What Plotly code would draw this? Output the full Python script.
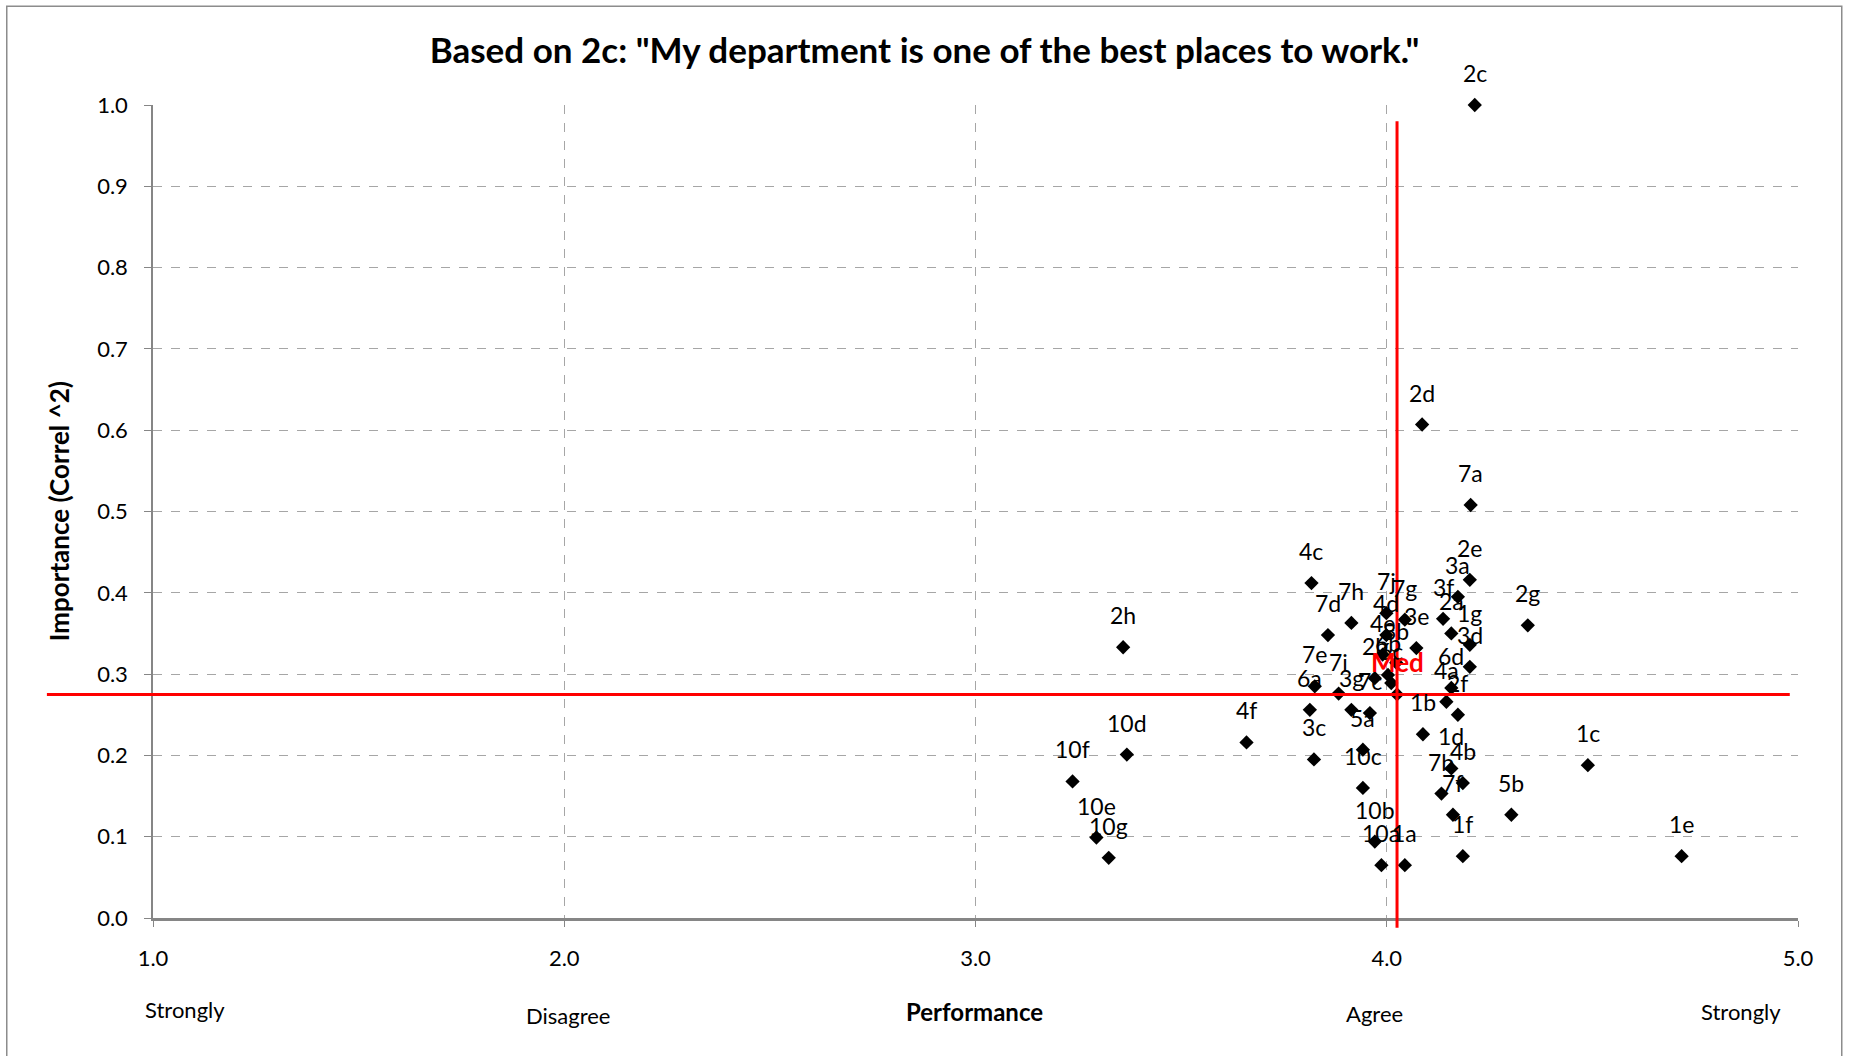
import plotly.graph_objects as go

# ---------------- data ----------------
labels = ["2c", "2d", "7a", "2e", "3a", "3f", "2a", "1g", "3d", "6d", "4a", "2f",
          "1b", "1d", "4b", "7b", "7f", "1f", "5b", "1c", "1e", "2g", "4c", "7h",
          "7d", "7j", "7g", "4d", "3e", "4e", "3b", "2b", "6b", "6c", "7e", "6a",
          "7i", "3g", "7c", "5a", "3c", "10c", "10b", "10a", "1a", "2h", "10d",
          "4f", "10f", "10e", "10g"]
performance = [4.214, 4.086, 4.204, 4.202, 4.173, 4.137, 4.157, 4.202, 4.202, 4.157, 4.145, 4.173,
               4.088, 4.157, 4.185, 4.133, 4.161, 4.185, 4.303, 4.489, 4.717, 4.343, 3.817, 3.914,
               3.857, 3.999, 4.044, 3.999, 4.072, 3.990, 4.023, 3.971, 4.003, 4.011, 3.825, 3.813,
               3.883, 3.914, 3.959, 3.942, 3.823, 3.942, 3.971, 3.987, 4.044, 3.359, 3.368,
               3.659, 3.236, 3.294, 3.324]
importance = [1.000, 0.607, 0.508, 0.416, 0.395, 0.368, 0.350, 0.336, 0.309, 0.283, 0.266, 0.250,
              0.226, 0.184, 0.166, 0.153, 0.127, 0.076, 0.127, 0.188, 0.076, 0.360, 0.412, 0.363,
              0.348, 0.375, 0.367, 0.348, 0.332, 0.324, 0.314, 0.295, 0.299, 0.289, 0.285, 0.256,
              0.276, 0.256, 0.252, 0.207, 0.195, 0.160, 0.094, 0.065, 0.065, 0.333, 0.201,
              0.216, 0.168, 0.099, 0.074]

med_label = "Med"
med_perf = 4.025
med_imp = 0.275
med_hline_x = [0.742, 4.98]     # extent of the horizontal median bar (performance)
med_vline_y = [-0.012, 0.98]    # extent of the vertical median bar (importance)

x_range = [1.0, 5.0]
y_range = [0.0, 1.0]
x_ticks = [1.0, 2.0, 3.0, 4.0, 5.0]
y_ticks = [0.0, 0.1, 0.2, 0.3, 0.4, 0.5, 0.6, 0.7, 0.8, 0.9, 1.0]

scale_labels = ["Strongly", "Disagree", "<b>Performance</b>", "Agree", "Strongly"]
scale_label_x = [1.077, 2.009, 2.998, 3.971, 4.862]
scale_label_y = [-0.112, -0.120, -0.1155, -0.117, -0.1155]
scale_label_size = [22, 22, 24, 22, 22]

title_text = "<b>Based on 2c: \"My department is one of the best places to work.\"</b>"
y_title = "<b>Importance (Correl ^2)</b>"

FONT = "Lato"
LABEL_SHIFT = 32  # px above the marker centre

def xp(v):
    return (v - x_range[0]) / (x_range[1] - x_range[0])

def yp(v):
    return (v - y_range[0]) / (y_range[1] - y_range[0])

fig = go.Figure()

fig.add_trace(go.Scatter(
    x=performance, y=importance, mode="markers", text=labels,
    marker=dict(symbol="diamond", size=11, color="#000000"),
    cliponaxis=False, showlegend=False, hoverinfo="x+y+text",
))

fig.add_trace(go.Scatter(
    x=[med_perf], y=[med_imp], mode="markers", text=[med_label],
    marker=dict(symbol="diamond", size=11, color="#000000"),
    cliponaxis=False, showlegend=False,
))

shapes = [
    dict(type="line", xref="paper", yref="paper",
         x0=xp(med_hline_x[0]), x1=xp(med_hline_x[1]), y0=yp(med_imp), y1=yp(med_imp),
         line=dict(color="#ff0000", width=3), layer="above"),
    dict(type="line", xref="paper", yref="paper",
         x0=xp(med_perf), x1=xp(med_perf), y0=yp(med_vline_y[0]), y1=yp(med_vline_y[1]),
         line=dict(color="#ff0000", width=3), layer="above"),
    # outer chart border
    dict(type="rect", xref="paper", yref="paper",
         x0=-0.0889, x1=1.0266, y0=-0.175, y1=1.1216,
         line=dict(color="#8c8c8c", width=1.5), fillcolor="rgba(0,0,0,0)", layer="below"),
]

annotations = []
# point labels
for lab, xv, yv in zip(labels, performance, importance):
    annotations.append(dict(text=lab, x=xv, y=yv, xref="x", yref="y", showarrow=False,
                            xanchor="center", yanchor="middle", yshift=LABEL_SHIFT,
                            font=dict(family=FONT, size=23, color="#000000")))
annotations.append(dict(text="<b>" + med_label + "</b>", x=med_perf, y=med_imp, xref="x", yref="y",
                        showarrow=False, xanchor="center", yanchor="middle", yshift=LABEL_SHIFT,
                        font=dict(family=FONT, size=26, color="#ff0000")))
# scale labels under the x axis
for t, xv, yv, fs in zip(scale_labels, scale_label_x, scale_label_y, scale_label_size):
    annotations.append(dict(text=t, x=xv, y=yv, xref="x", yref="paper", showarrow=False,
                            xanchor="center", yanchor="middle",
                            font=dict(family=FONT, size=fs, color="#000000")))
annotations.append(dict(text=y_title, x=-0.0573, y=0.5, xref="paper", yref="paper",
                        showarrow=False, textangle=-90, xanchor="center", yanchor="middle",
                        font=dict(family=FONT, size=26, color="#000000")))

fig.update_layout(
    width=1849, height=1056,
    margin=dict(l=153, r=51, t=105, b=138),
    paper_bgcolor="#ffffff", plot_bgcolor="#ffffff",
    title=dict(text=title_text, x=0.5, xref="container", y=0.952, yref="container",
               xanchor="center", yanchor="middle",
               font=dict(family=FONT, size=35, color="#000000")),
    shapes=shapes, annotations=annotations,
    font=dict(family=FONT, color="#000000"),
)

fig.update_xaxes(range=x_range, tickvals=x_ticks, tickformat=".1f",
                 showgrid=True, gridcolor="#a6a6a6", griddash="dash", gridwidth=1,
                 zeroline=False, showline=True, linecolor="#868686", linewidth=3,
                 ticks="outside", ticklen=6, tickcolor="#868686",
                 ticklabelstandoff=13,
                 tickfont=dict(family=FONT, size=22, color="#000000"))
fig.update_yaxes(range=y_range, tickvals=y_ticks, tickformat=".1f",
                 showgrid=True, gridcolor="#a6a6a6", griddash="dash", gridwidth=1,
                 zeroline=False, showline=True, linecolor="#868686", linewidth=1.5,
                 ticks="outside", ticklen=7, tickcolor="#868686",
                 ticklabelstandoff=12,
                 tickfont=dict(family=FONT, size=22, color="#000000"))

fig.write_html("out.html", config={"displayModeBar": False},
               post_script="document.body.style.margin='0';document.body.style.overflow='hidden';")
